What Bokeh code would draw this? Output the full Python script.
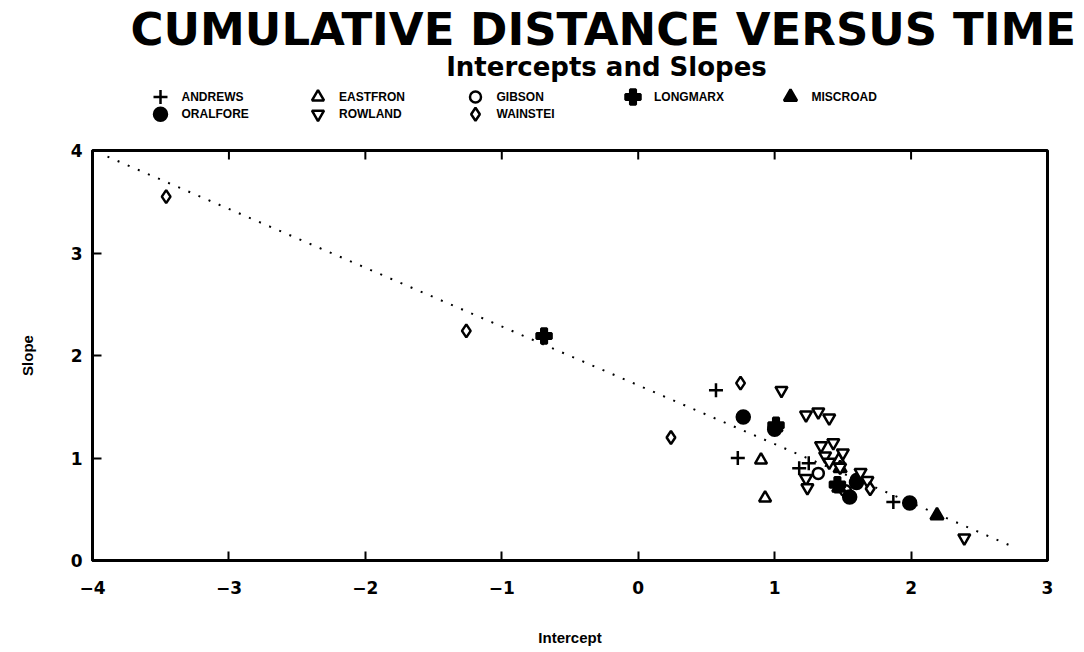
import math
from bokeh.plotting import figure
from bokeh.layouts import column
from bokeh.models import FixedTicker, Range1d, Title, Label
from bokeh.core.properties import value
from bokeh.embed import file_html
from bokeh.resources import INLINE

# ---------------- data ----------------
title_text = "CUMULATIVE DISTANCE VERSUS TIME"
subtitle_text = "Intercepts and Slopes"
x_label = "Intercept"
y_label = "Slope"
x_ticks = [-4, -3, -2, -1, 0, 1, 2, 3]
x_tick_labels = ["\u22124", "\u22123", "\u22122", "\u22121", "0", "1", "2", "3"]
y_ticks = [0, 1, 2, 3, 4]
y_tick_labels = ["0", "1", "2", "3", "4"]

series_names = ["ANDREWS", "EASTFRON", "GIBSON", "LONGMARX", "MISCROAD",
                "ORALFORE", "ROWLAND", "WAINSTEI"]

andrews_x = [0.57, 0.73, 1.18, 1.25, 1.87]
andrews_y = [1.66, 1.00, 0.90, 0.95, 0.57]
eastfron_x = [0.90, 0.93, 1.47]
eastfron_y = [0.98, 0.61, 0.98]
gibson_x = [1.32, 1.52, 1.60]
gibson_y = [0.85, 0.68, 0.79]
longmarx_x = [-0.69, 1.01, 1.46]
longmarx_y = [2.19, 1.32, 0.74]
miscroad_x = [1.01, 1.48, 1.47, 2.19]
miscroad_y = [1.30, 0.90, 0.71, 0.44]
oralfore_x = [0.77, 1.00, 1.55, 1.60, 1.99]
oralfore_y = [1.40, 1.28, 0.62, 0.76, 0.56]
rowland_x = [1.05, 1.23, 1.32, 1.40, 1.34, 1.43, 1.37, 1.50, 1.40, 1.48,
             1.23, 1.24, 1.63, 1.68, 2.39]
rowland_y = [1.66, 1.42, 1.45, 1.39, 1.12, 1.15, 1.02, 1.05, 0.96, 0.91,
             0.80, 0.71, 0.86, 0.78, 0.22]
wainstei_x = [-3.46, -1.26, 0.24, 0.75, 1.70]
wainstei_y = [3.55, 2.24, 1.20, 1.73, 0.70]

fit_x = [-3.89, 2.72]
fit_y = [3.94, 0.15]

# ---------------- styling ----------------
FONT = "DejaVu Sans"
W = 1080
HEAD_H = 140
MAIN_H = 508
FRAME_L, FRAME_R = 92, 1047
HEAD_FRAME_TOP = 56          # below the title panel

styles = [  # marker, size, fill
    ("cross", 14, None),
    ("triangle", 12, "white"),
    ("circle", 11, "white"),
    ("plus", 15, "black"),
    ("triangle", 13, "black"),
    ("circle", 13, "black"),
    ("inverted_triangle", 12, "white"),
    ("diamond", 13, "white"),
]
xs_all = [andrews_x, eastfron_x, gibson_x, longmarx_x, miscroad_x,
          oralfore_x, rowland_x, wainstei_x]
ys_all = [andrews_y, eastfron_y, gibson_y, longmarx_y, miscroad_y,
          oralfore_y, rowland_y, wainstei_y]

# ---------------- header (title, subtitle, key) ----------------
# header frame uses page-pixel coordinates (y grows downward)
head = figure(width=W, height=HEAD_H, output_backend="svg", toolbar_location=None,
              x_range=Range1d(FRAME_L, FRAME_R),
              y_range=Range1d(HEAD_H, HEAD_FRAME_TOP),
              x_axis_location=None, y_axis_location=None,
              min_border=0, min_border_left=0, min_border_right=0,
              min_border_top=0, min_border_bottom=0)
head.xgrid.visible = False
head.ygrid.visible = False
head.outline_line_color = None
head.background_fill_color = "white"
head.border_fill_color = "white"

head.add_layout(Title(text=title_text, align="left", offset=130 - FRAME_L,
                      text_font=FONT, text_font_style="bold", text_color="black",
                      text_font_size="45px", standoff=0), "above")
head.add_layout(Label(x=606, y=67, text=subtitle_text, text_align="center",
                      text_baseline="alphabetic", text_font=FONT,
                      text_font_style="bold", text_color="black",
                      text_font_size="26px"))

# key layout: 5 columns, 2 rows
KEY_X0, KEY_DX, KEY_Y0, KEY_DY, LABEL_DX = 160, 157.5, 97, 17, 21
for i, (name, (marker, size, fc)) in enumerate(zip(series_names, styles)):
    kx = KEY_X0 + KEY_DX * (i % 5)
    ky = KEY_Y0 + KEY_DY * (i // 5)
    head.scatter([kx], [ky], marker=marker, size=size, line_color="black",
                 line_width=2.5, fill_color=fc)
    head.text([kx + LABEL_DX], [ky], text=[name], text_align="left",
              text_baseline="middle", text_font=value("Liberation Sans"),
              text_font_style="bold", text_font_size="12px", text_color="black")

# ---------------- main plot ----------------
p = figure(width=W, height=MAIN_H, output_backend="svg", toolbar_location=None,
           x_range=Range1d(x_ticks[0], x_ticks[-1]),
           y_range=Range1d(y_ticks[0], y_ticks[-1]),
           min_border_left=FRAME_L, min_border_right=W - FRAME_R,
           min_border_bottom=88, min_border_top=10)
p.background_fill_color = "white"
p.border_fill_color = "white"
p.outline_line_color = "black"
p.outline_line_width = 3
p.xgrid.visible = False
p.ygrid.visible = False

for ax in p.xaxis:
    ax.ticker = FixedTicker(ticks=x_ticks)
    ax.major_label_overrides = {t: l for t, l in zip(x_ticks, x_tick_labels)}
    ax.major_label_standoff = 20
    ax.axis_label = x_label
    ax.axis_label_standoff = 32
for ax in p.yaxis:
    ax.ticker = FixedTicker(ticks=y_ticks)
    ax.major_label_overrides = {t: l for t, l in zip(y_ticks, y_tick_labels)}
    ax.major_label_standoff = 10
    ax.axis_label = y_label
    ax.axis_label_standoff = 32
for ax in list(p.xaxis) + list(p.yaxis):
    ax.axis_line_width = 3
    ax.axis_line_color = "black"
    ax.major_tick_in = 9
    ax.major_tick_out = 0
    ax.major_tick_line_width = 2
    ax.minor_tick_line_color = None
    ax.major_label_text_font = FONT
    ax.major_label_text_font_style = "bold"
    ax.major_label_text_font_size = "17px"
    ax.major_label_text_color = "black"
    ax.axis_label_text_font = "Liberation Sans"
    ax.axis_label_text_font_style = "bold"
    ax.axis_label_text_font_size = "15px"
    ax.axis_label_text_color = "black"

# inward ticks along the top edge of the frame
p.ray(x=x_ticks[1:-1], y=[y_ticks[-1]] * (len(x_ticks) - 2), length=9,
      length_units="screen", angle=-math.pi / 2, line_color="black",
      line_width=2)

# fitted line
p.line(fit_x, fit_y, line_color="black", line_width=2, line_dash="2 9")

for xs, ys, (marker, size, fc) in zip(xs_all, ys_all, styles):
    p.scatter(xs, ys, marker=marker, size=size, line_color="black",
              line_width=2.5, fill_color=fc)

layout = column(head, p, spacing=0)
open("out.html", "w").write(file_html(layout, INLINE))
